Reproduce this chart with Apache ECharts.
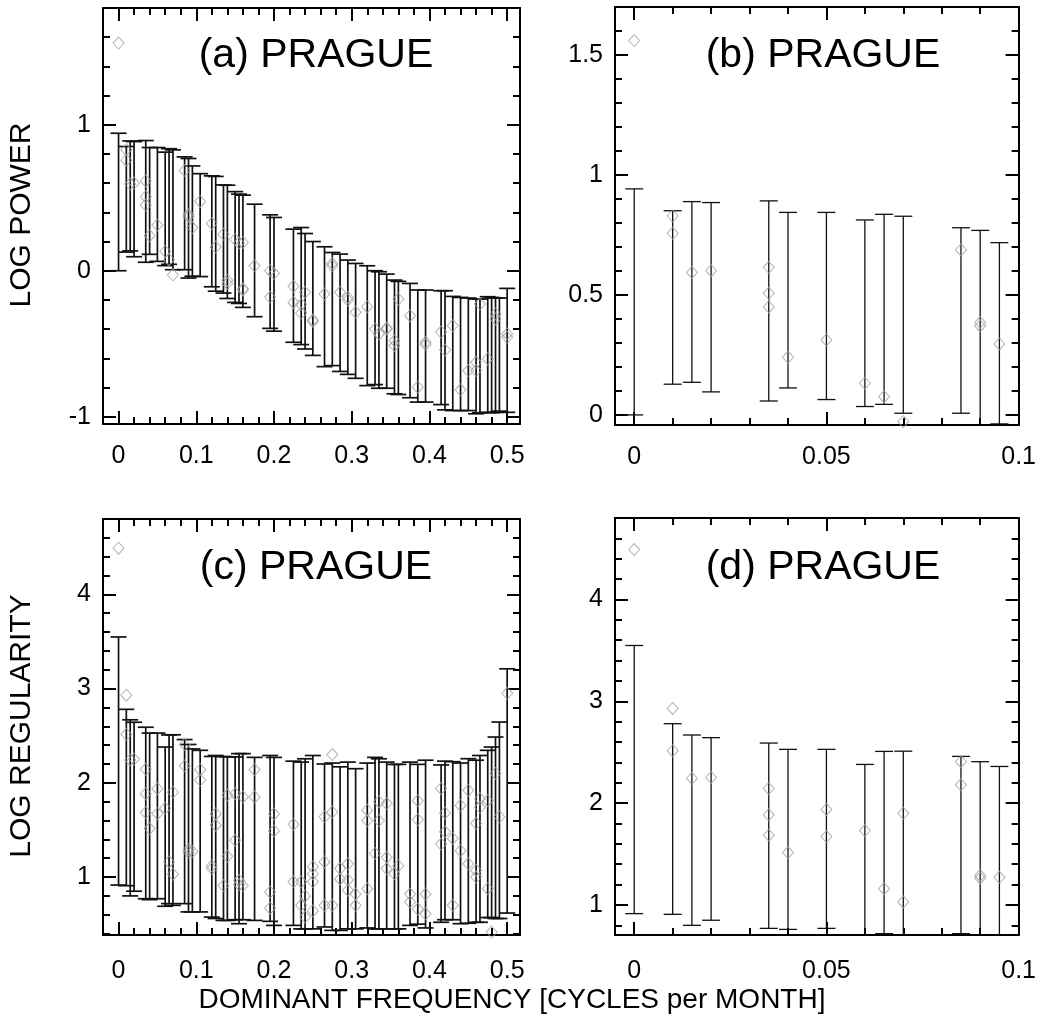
<!DOCTYPE html>
<html>
<head>
<meta charset="utf-8">
<script src="https://cdn.jsdelivr.net/npm/echarts@6/dist/echarts.min.js"></script>
<style>
html, body { margin: 0; padding: 0; background: #fff; }
#chart { width: 1039px; height: 1022px; }
</style>
</head>
<body>
<div id="chart"></div>
<script>
// dominant frequencies (cycles per month) that carry an error bar
const freqs = [
	0, 0.01, 0.015, 0.02, 0.035, 0.04, 0.05, 0.06, 0.065, 0.07,
	0.085, 0.09, 0.095, 0.105, 0.12, 0.125, 0.135, 0.14, 0.15, 0.155,
	0.16, 0.175, 0.195, 0.2, 0.225, 0.235, 0.24, 0.25, 0.265, 0.275,
	0.285, 0.295, 0.305, 0.32, 0.33, 0.335, 0.345, 0.355, 0.36, 0.375,
	0.385, 0.395, 0.415, 0.42, 0.43, 0.44, 0.45, 0.46, 0.465, 0.475,
	0.48, 0.485, 0.49, 0.5
];

// log power, error bar ends
const powerHi = [
	0.942, 0.851, 0.889, 0.885, 0.892, 0.844, 0.844, 0.8125, 0.836, 0.828,
	0.78, 0.769, 0.718, 0.665, 0.65, 0.646, 0.588, 0.586, 0.542, 0.525,
	0.518, 0.456, 0.383, 0.365, 0.285, 0.296, 0.255, 0.2, 0.164, 0.125,
	0.114, 0.073, 0.05, 0.034, 0.0, -0.007, -0.023, -0.064, -0.073, -0.087,
	-0.132, -0.132, -0.137, -0.137, -0.176, -0.183, -0.187, -0.194, -0.194, -0.178,
	-0.183, -0.187, -0.187, -0.121
];
const powerLo = [
	0.0, 0.128, 0.136, 0.096, 0.058, 0.1125, 0.064, 0.035, 0.044, 0.007,
	0.007, -0.05, -0.0375, -0.04, -0.11, -0.14, -0.153, -0.19, -0.217, -0.224,
	-0.251, -0.315, -0.395, -0.414, -0.49, -0.506, -0.536, -0.58, -0.657, -0.65,
	-0.69, -0.71, -0.737, -0.787, -0.78, -0.805, -0.805, -0.843, -0.848, -0.87,
	-0.9, -0.9, -0.917, -0.953, -0.958, -0.958, -0.958, -0.98, -0.973, -0.97,
	-0.973, -0.97, -0.962, -0.97
];

// log regularity, error bar ends
const regHi = [
	3.548, 2.78, 2.669, 2.643, 2.59, 2.528, 2.528, 2.38, 2.508, 2.51,
	2.459, 2.407, 2.36, 2.345, 2.28, 2.29, 2.28, 2.275, 2.275, 2.31,
	2.31, 2.27, 2.29, 2.27, 2.23, 2.22, 2.255, 2.29, 2.2, 2.21,
	2.17, 2.22, 2.15, 2.21, 2.27, 2.255, 2.22, 2.196, 2.196, 2.22,
	2.196, 2.24, 2.19, 2.23, 2.224, 2.21, 2.256, 2.24, 2.29, 2.345,
	2.38, 2.486, 2.645, 3.21
];
const regLo = [
	0.915, 0.908, 0.8, 0.85, 0.77, 0.76, 0.77, 0.69, 0.718, 0.7,
	0.718, 0.63, 0.63, 0.63, 0.575, 0.56, 0.54, 0.54, 0.547, 0.505,
	0.547, 0.54, 0.53, 0.487, 0.487, 0.45, 0.45, 0.45, 0.47, 0.434,
	0.434, 0.45, 0.45, 0.46, 0.45, 0.45, 0.45, 0.45, 0.45, 0.487,
	0.5, 0.46, 0.52, 0.547, 0.547, 0.505, 0.51, 0.52, 0.52, 0.57,
	0.57, 0.56, 0.56, 0.618
];

// individual stations, [frequency, log power]
const powerPoints = [
	[0, 1.56], [0.01, 0.829], [0.01, 0.757], [0.015, 0.594], [0.02, 0.601],
	[0.035, 0.615], [0.035, 0.507], [0.035, 0.45], [0.04, 0.24], [0.05, 0.3125],
	[0.06, 0.132], [0.065, 0.076], [0.07, -0.028], [0.085, 0.6875], [0.09, 0.385],
	[0.09, 0.371], [0.095, 0.296], [0.105, 0.475], [0.12, 0.324], [0.125, 0.162],
	[0.135, 0.25], [0.14, -0.066], [0.14, -0.088], [0.15, 0.214], [0.155, 0.19],
	[0.16, -0.132], [0.16, 0.194], [0.16, -0.125], [0.175, 0.034], [0.195, 0.0],
	[0.2, -0.018], [0.195, -0.18], [0.225, -0.107], [0.225, -0.217], [0.235, -0.23],
	[0.235, -0.29], [0.24, -0.148], [0.25, -0.337], [0.25, -0.347], [0.265, -0.16],
	[0.275, 0.05], [0.275, 0.034], [0.285, -0.148], [0.295, -0.183], [0.295, -0.2],
	[0.305, -0.285], [0.32, -0.246], [0.33, -0.4], [0.335, -0.433], [0.345, -0.392],
	[0.345, -0.4], [0.355, -0.479], [0.355, -0.513], [0.36, -0.194], [0.375, -0.308],
	[0.385, -0.798], [0.395, -0.49], [0.395, -0.506], [0.415, -0.42], [0.42, -0.543],
	[0.43, -0.376], [0.44, -0.816], [0.45, -0.684], [0.46, -0.627], [0.46, -0.684],
	[0.465, -0.228], [0.475, -0.604], [0.485, -0.296], [0.485, -0.33], [0.5, -0.433],
	[0.5, -0.456]
];

// individual stations, [frequency, log regularity]
const regPoints = [
	[0, 4.49], [0.01, 2.93], [0.01, 2.515], [0.015, 2.243], [0.02, 2.252],
	[0.035, 2.144], [0.035, 1.885], [0.035, 1.685], [0.04, 1.515], [0.05, 1.938],
	[0.05, 1.672], [0.06, 1.731], [0.065, 1.16], [0.07, 1.9], [0.07, 1.03],
	[0.085, 2.407], [0.085, 2.18], [0.09, 1.29], [0.09, 1.265], [0.095, 1.272],
	[0.105, 2.14], [0.105, 2.03], [0.12, 1.12], [0.12, 1.09], [0.125, 1.67],
	[0.125, 1.55], [0.135, 0.91], [0.14, 1.87], [0.14, 1.22], [0.15, 1.885],
	[0.15, 1.39], [0.155, 0.965], [0.155, 0.92], [0.16, 1.85], [0.16, 0.91],
	[0.175, 2.14], [0.175, 1.85], [0.195, 0.84], [0.195, 0.67], [0.2, 1.67],
	[0.2, 1.49], [0.225, 1.56], [0.225, 0.95], [0.235, 0.95], [0.235, 0.7],
	[0.24, 0.8], [0.24, 0.575], [0.25, 1.11], [0.25, 1.035], [0.25, 0.95],
	[0.25, 0.64], [0.265, 1.64], [0.265, 1.16], [0.265, 0.7], [0.275, 1.69],
	[0.275, 2.3], [0.275, 0.7], [0.285, 0.98], [0.285, 1.09], [0.295, 1.14],
	[0.295, 0.97], [0.295, 0.86], [0.305, 0.82], [0.305, 0.7], [0.32, 1.71],
	[0.32, 1.6], [0.32, 0.876], [0.33, 1.25], [0.335, 1.8], [0.335, 1.6],
	[0.345, 1.78], [0.345, 1.21], [0.345, 1.09], [0.355, 1.035], [0.36, 1.12],
	[0.375, 0.735], [0.375, 0.82], [0.385, 1.81], [0.385, 1.61], [0.385, 0.66],
	[0.395, 0.82], [0.395, 0.61], [0.415, 1.94], [0.415, 1.35], [0.42, 1.68],
	[0.42, 1.48], [0.43, 1.41], [0.43, 0.7], [0.44, 1.28], [0.44, 1.76],
	[0.45, 1.92], [0.45, 1.14], [0.46, 1.57], [0.46, 1.07], [0.46, 1.0],
	[0.465, 1.74], [0.465, 1.83], [0.475, 1.81], [0.475, 0.876], [0.48, 0.416],
	[0.485, 2.1], [0.49, 1.64], [0.5, 2.95]
];

// tick labels
const wideXTicks = [0, 0.1, 0.2, 0.3, 0.4, 0.5];
const zoomXTicks = [0, 0.05, 0.1];
const powerYTicks = [-1, 0, 1];
const powerZoomYTicks = [0, 0.5, 1, 1.5];
const regYTicks = [1, 2, 3, 4];

const FONT = "'Liberation Sans', Arial, Helvetica, sans-serif";

function minorTicks(from, to, step, skip) {
	const out = [];
	for (let i = 0; ; i++) {
		const v = +(from + i * step).toFixed(6);
		if (v > to + 1e-9) break;
		if (!skip.some(s => Math.abs(s - v) < 1e-9)) out.push(v);
	}
	return out;
}

const powerBars = freqs.map((f, i) => [f, powerLo[i], powerHi[i]]);
const regBars = freqs.map((f, i) => [f, regLo[i], regHi[i]]);
const zoomOnly = d => d[0] <= 0.1 + 1e-9;

const panels = [
	{
		grid: {left: 103, top: 8, width: 417, height: 416},
		x: [-0.02, 0.5165], y: [-1.05, 1.8],
		xMaj: wideXTicks, xMin: minorTicks(0, 0.5, 0.02, wideXTicks),
		yMaj: powerYTicks, yMin: minorTicks(-1, 1.8, 0.2, powerYTicks),
		bars: powerBars, pts: powerPoints, cap: 16, lw: 1.7, xGap: 20
	},
	{
		grid: {left: 615, top: 7, width: 407, height: 418},
		x: [-0.005, 0.1], y: [-0.042, 1.7],
		xMaj: zoomXTicks, xMin: minorTicks(0, 0.1, 0.01, zoomXTicks),
		yMaj: powerZoomYTicks, yMin: minorTicks(0, 1.7, 0.1, powerZoomYTicks),
		bars: powerBars.filter(zoomOnly), pts: powerPoints.filter(zoomOnly), cap: 18, lw: 1.3, xGap: 20
	},
	{
		grid: {left: 103, top: 519, width: 417, height: 416},
		x: [-0.02, 0.5165], y: [0.385, 4.8],
		xMaj: wideXTicks, xMin: minorTicks(0, 0.5, 0.02, wideXTicks),
		yMaj: regYTicks, yMin: minorTicks(0.4, 4.8, 0.2, regYTicks),
		bars: regBars, pts: regPoints, cap: 16, lw: 1.7, xGap: 24
	},
	{
		grid: {left: 615, top: 518, width: 407, height: 417},
		x: [-0.005, 0.1], y: [0.705, 4.8],
		xMaj: zoomXTicks, xMin: minorTicks(0, 0.1, 0.01, zoomXTicks),
		yMaj: regYTicks, yMin: minorTicks(0.8, 4.8, 0.2, regYTicks),
		bars: regBars.filter(zoomOnly), pts: regPoints.filter(zoomOnly), cap: 18, lw: 1.3, xGap: 24
	}
];

function makeAxes(dim, p, g) {
	const range = dim === "x" ? p.x : p.y;
	const major = dim === "x" ? p.xMaj : p.yMaj;
	const minor = dim === "x" ? p.xMin : p.yMin;
	const sides = dim === "x" ? ["bottom", "top"] : ["left", "right"];
	const list = [];
	sides.forEach((side, si) => {
		[[major, 13], [minor, 7]].forEach(([vals, len], k) => {
			list.push({
				type: "value",
				gridIndex: g,
				position: side,
				min: range[0],
				max: range[1],
				axisLine: {show: k === 0, onZero: false, lineStyle: {color: "#000", width: 2}},
				axisTick: {show: true, inside: true, length: len, customValues: vals, lineStyle: {color: "#000", width: 2}},
				axisLabel: {
					show: si === 0 && k === 0,
					customValues: vals,
					color: "#000",
					fontFamily: FONT,
					fontSize: 25,
					margin: dim === "x" ? p.xGap : 12
				},
				splitLine: {show: false}
			});
		});
	});
	return list;
}

function errorBar(cap, lw) {
	return function (params, api) {
		const x = api.value(0);
		const lo = api.coord([x, api.value(1)]);
		const hi = api.coord([x, api.value(2)]);
		const h = cap / 2;
		const style = {stroke: "#111", lineWidth: lw};
		return {
			type: "group",
			children: [
				{type: "line", shape: {x1: hi[0], y1: hi[1], x2: lo[0], y2: lo[1]}, style: style},
				{type: "line", shape: {x1: hi[0] - h, y1: hi[1], x2: hi[0] + h, y2: hi[1]}, style: style},
				{type: "line", shape: {x1: lo[0] - h, y1: lo[1], x2: lo[0] + h, y2: lo[1]}, style: style}
			]
		};
	};
}

const xAxis = [], yAxis = [], series = [];
panels.forEach((p, g) => {
	xAxis.push(...makeAxes("x", p, g));
	yAxis.push(...makeAxes("y", p, g));
	series.push({
		type: "custom",
		xAxisIndex: g * 4,
		yAxisIndex: g * 4,
		clip: true,
		silent: true,
		encode: {x: 0, y: [1, 2]},
		renderItem: errorBar(p.cap, p.lw),
		data: p.bars,
		z: 2
	});
	series.push({
		type: "scatter",
		xAxisIndex: g * 4,
		yAxisIndex: g * 4,
		symbol: "diamond",
		symbolSize: [11, 12],
		itemStyle: {color: "rgba(0,0,0,0)", borderColor: "#a0a0a0", borderWidth: 1},
		data: p.pts,
		z: 3
	});
});

function label(text, x, y, size, rot) {
	return {
		type: "text",
		x: x,
		y: y,
		rotation: rot || 0,
		style: {text: text, fontFamily: FONT, fontSize: size, fill: "#000", align: "center", verticalAlign: "middle"}
	};
}

const chart = echarts.init(document.getElementById("chart"));
chart.setOption({
	animation: false,
	backgroundColor: "#fff",
	grid: panels.map(p => p.grid),
	xAxis: xAxis,
	yAxis: yAxis,
	series: series,
	graphic: [
		label("(a) PRAGUE", 316, 56, 41),
		label("(b) PRAGUE", 823, 56, 41),
		label("(c) PRAGUE", 316, 568, 41),
		label("(d) PRAGUE", 823, 568, 41),
		label("LOG POWER", 22, 215, 30, Math.PI / 2),
		label("LOG REGULARITY", 22, 726, 30, Math.PI / 2),
		label("DOMINANT FREQUENCY [CYCLES per MONTH]", 512, 1000, 28)
	]
});
window.addEventListener("resize", () => chart.resize());
</script>
</body>
</html>
